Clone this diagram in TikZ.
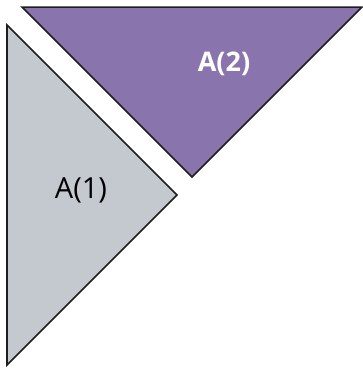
\documentclass[tikz,border=0pt]{standalone}
\usepackage{fontspec}
\setmainfont{Open Sans}
\usepackage{tikz}
\definecolor{mypurple}{RGB}{138,116,174}
\definecolor{mygray}{RGB}{196,200,207}
\definecolor{mydark}{RGB}{30,30,30}
\tikzset{
  tri/.style={draw=mydark, line width=1.5pt, line join=miter},
  graytri/.style={tri, fill=mygray},
  purptri/.style={tri, fill=mypurple},
  label/.style={font=\fontsize{29}{31}\selectfont, inner sep=0pt}
}

\begin{document}
\begin{tikzpicture}[x=1pt, y=-1pt]
  \useasboundingbox (0,0) rectangle (363,368);
  % A(1)
  \draw[graytri] (7,25) -- (177,195) -- (7,365) -- cycle;
  % A(2)
  \draw[purptri] (22,7) -- (362,7) -- (192,177) -- cycle;
  \node[label, text=black] (a1) at (81,190) {A(1)};
  \node[label, text=white, font=\fontsize{27}{29}\selectfont\bfseries] (a2) at (224,64) {A(2)};
\end{tikzpicture}
\end{document}
